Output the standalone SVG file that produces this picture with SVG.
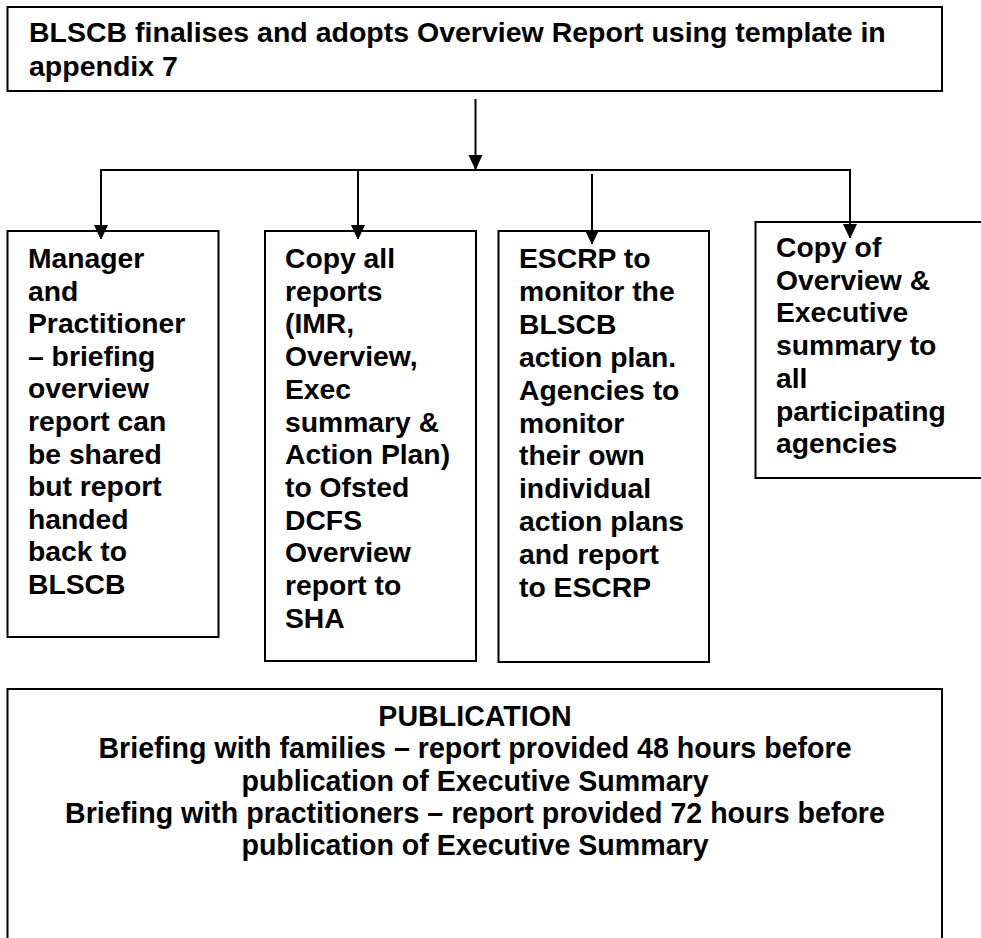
<svg xmlns="http://www.w3.org/2000/svg" width="981" height="938" viewBox="0 0 981 938">
<defs>
<marker id="ah" markerWidth="14" markerHeight="15" refX="14" refY="7" orient="auto" markerUnits="userSpaceOnUse">
<path d="M0,0 L15,7 L0,14 Z" fill="#000"/>
</marker>
<style>
.box{fill:#fff;stroke:#000;stroke-width:2}
.t{font-family:"Liberation Sans",Arial,sans-serif;font-weight:bold;font-size:28.3px;fill:#000}
.c{text-anchor:middle}
.ln{stroke:#000;stroke-width:2;fill:none}
</style>
</defs>
<rect width="981" height="938" fill="#fff"/>
<g id="top">
<rect class="box" x="7.5" y="7" width="934.5" height="84"/>
<text class="t" x="29" y="42" style="font-size:28.5px"><tspan x="29">BLSCB finalises and adopts Overview Report using template in</tspan><tspan x="29" dy="33.5">appendix 7</tspan></text>
</g>
<g id="box1">
<rect class="box" x="7.5" y="231" width="211" height="406"/>
<text class="t" x="28" y="268"><tspan x="28">Manager</tspan><tspan x="28" dy="32.6">and</tspan><tspan x="28" dy="32.6">Practitioner</tspan><tspan x="28" dy="32.6">– briefing</tspan><tspan x="28" dy="32.6">overview</tspan><tspan x="28" dy="32.6">report can</tspan><tspan x="28" dy="32.6">be shared</tspan><tspan x="28" dy="32.6">but report</tspan><tspan x="28" dy="32.6">handed</tspan><tspan x="28" dy="32.6">back to</tspan><tspan x="28" dy="32.6">BLSCB</tspan></text>
</g>
<g id="box2">
<rect class="box" x="265" y="231" width="211" height="430"/>
<text class="t" x="285" y="268"><tspan x="285">Copy all</tspan><tspan x="285" dy="32.7">reports</tspan><tspan x="285" dy="32.7">(IMR,</tspan><tspan x="285" dy="32.7">Overview,</tspan><tspan x="285" dy="32.7">Exec</tspan><tspan x="285" dy="32.7">summary &amp;</tspan><tspan x="285" dy="32.7">Action Plan)</tspan><tspan x="285" dy="32.7">to Ofsted</tspan><tspan x="285" dy="32.7">DCFS</tspan><tspan x="285" dy="32.7">Overview</tspan><tspan x="285" dy="32.7">report to</tspan><tspan x="285" dy="32.7">SHA</tspan></text>
</g>
<g id="box3">
<rect class="box" x="498.5" y="231" width="210.5" height="431"/>
<text class="t" x="519" y="268"><tspan x="519">ESCRP to</tspan><tspan x="519" dy="32.9">monitor the</tspan><tspan x="519" dy="32.9">BLSCB</tspan><tspan x="519" dy="32.9">action plan.</tspan><tspan x="519" dy="32.9">Agencies to</tspan><tspan x="519" dy="32.9">monitor</tspan><tspan x="519" dy="32.9">their own</tspan><tspan x="519" dy="32.9">individual</tspan><tspan x="519" dy="32.9">action plans</tspan><tspan x="519" dy="32.9">and report</tspan><tspan x="519" dy="32.9">to ESCRP</tspan></text>
</g>
<g id="box4">
<rect class="box" x="755.5" y="222" width="240" height="256"/>
<text class="t" x="776" y="257"><tspan x="776">Copy of</tspan><tspan x="776" dy="32.7">Overview &amp;</tspan><tspan x="776" dy="32.7">Executive</tspan><tspan x="776" dy="32.7">summary to</tspan><tspan x="776" dy="32.7">all</tspan><tspan x="776" dy="32.7">participating</tspan><tspan x="776" dy="32.7">agencies</tspan></text>
</g>
<g id="publication">
<rect class="box" x="7.5" y="689" width="934.5" height="260"/>
<text class="t c" x="475" y="726" style="font-size:28.6px"><tspan x="475">PUBLICATION</tspan><tspan x="475" dy="32.3">Briefing with families – report provided 48 hours before</tspan><tspan x="475" dy="32.3">publication of Executive Summary</tspan><tspan x="475" dy="32.3">Briefing with practitioners – report provided 72 hours before</tspan><tspan x="475" dy="32.3">publication of Executive Summary</tspan></text>
</g>
<g id="connectors">
<line class="ln" x1="475.5" y1="99" x2="475.5" y2="169" marker-end="url(#ah)"/>
<polyline class="ln" points="101,239 101,170 850,170 850,238"/>
<line class="ln" x1="358" y1="170" x2="358" y2="239" marker-end="url(#ah)"/>
<line class="ln" x1="101" y1="200" x2="101" y2="239" marker-end="url(#ah)"/>
<line class="ln" x1="850" y1="200" x2="850" y2="238" marker-end="url(#ah)"/>
<line class="ln" x1="592" y1="174" x2="592" y2="244" marker-end="url(#ah)"/>
</g>
</svg>
